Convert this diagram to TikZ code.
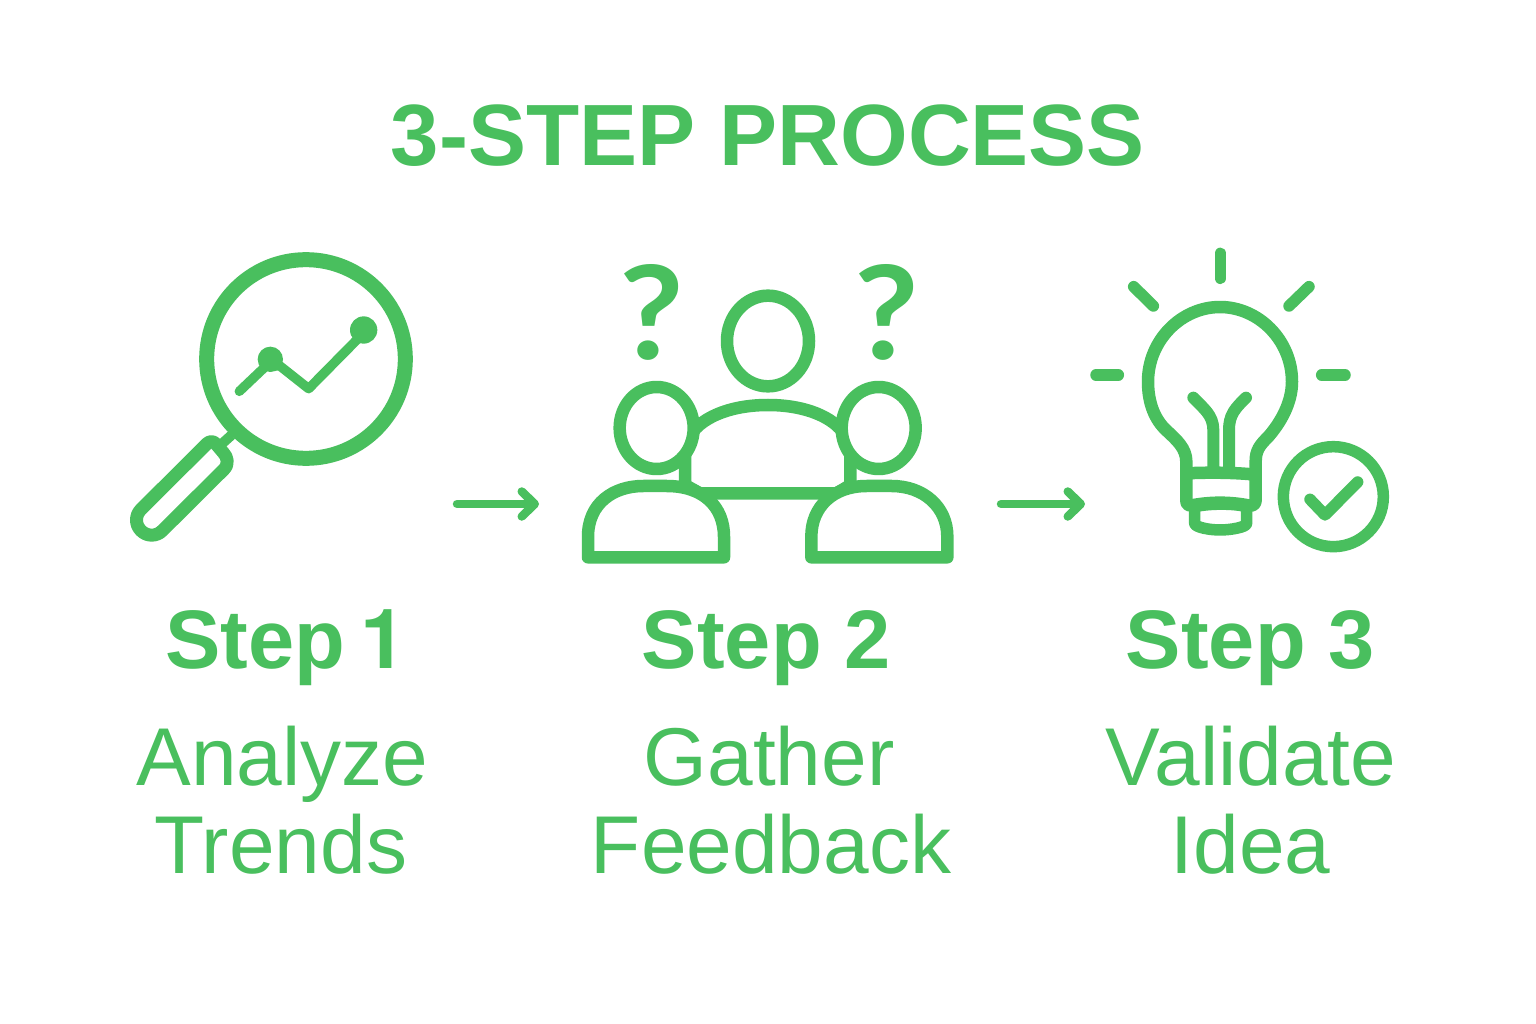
\documentclass[tikz,border=0pt]{standalone}
\usepackage{fontspec}
\usepackage{graphicx}
\setmainfont{Liberation Sans}
\newfontfamily\qfont{Lato}
\newfontfamily\onefont{TeX Gyre Heros}
\usetikzlibrary{arrows.meta}
\definecolor{grn}{HTML}{49BF5E}
\tikzset{
  x=1pt,y=-1pt,
  txt/.style={inner sep=0pt,outer sep=0pt,anchor=base,text=grn},
  titletxt/.style={txt,font=\fontsize{87}{87}\selectfont\bfseries},
  steptxt/.style={txt,font=\fontsize{83}{83}\selectfont\bfseries},
  bodytxt/.style={txt,font=\fontsize{82}{82}\selectfont},
  qmark/.style={txt,font=\fontsize{130}{130}\selectfont\qfont\bfseries},
  ico/.style={draw=grn,line width=12.5pt,line join=round,line cap=round},
  hollow/.style={ico,fill=white},
  flowline/.style={draw=grn,line width=8.5pt,line cap=round,line join=round,
    -{Straight Barb[round,length=13pt,width=25pt,line width=8.5pt]}},
}
\begin{document}
\begin{tikzpicture}
\useasboundingbox (0,0) rectangle (1536,1024);
\fill[white] (0,0) rectangle (1536,1024);
% texts
\node[titletxt] (title) at (768,166) {3-STEP PROCESS};
\node[steptxt] (s1) at (286,668) {Step\kern-8pt{} {\onefont 1}};
\node[steptxt] (s2) at (766.5,668) {Step 2};
\node[steptxt] (s3) at (1250.5,668) {Step 3};
\node[bodytxt] (a1) at (282.5,785) {Analyze};
\node[bodytxt] (a2) at (281,873) {Trends};
\node[bodytxt] (b1) at (769,785) {Gather};
\node[bodytxt] (b2) at (771,873) {Feedback};
\node[bodytxt] (c1) at (1251,785) {Validate};
\node[bodytxt] (c2) at (1250.5,873) {Idea};
% magnifier
\begin{scope}[shift={(120,240)},scale=1/3]
  \draw[ico,line cap=butt,line width=10pt] (305,612) -- (335,585);
  \draw[ico,line width=15pt] (558,357) circle[radius=298];
  \draw[hollow,line width=13pt] (262,610) -- (63,808)
     .. controls (45,826) and (45,854) .. (63,872)
     .. controls (81,890) and (109,890) .. (127,872)
     -- (312,688) .. controls (328,672) and (322,650) .. (310,638)
     -- (288,612) .. controls (280,603) and (270,603) .. (262,610) -- cycle;
  \draw[ico,line width=9.5pt] (358,454) -- (438,378) -- (480,378) -- (566,446) -- (715,295);
  \fill[grn] (451,358) circle[radius=38];
  \fill[grn] (731,270) circle[radius=41];
\end{scope}
% people
\begin{scope}[shift={(570,250)},scale=1/3]
  \draw[hollow,line cap=butt] (345,705) -- (345,600)
     .. controls (352,525) and (450,465) .. (594,465)
     .. controls (738,465) and (834,525) .. (841,600)
     -- (841,705) -- (800,730) -- (390,730) -- cycle;
  \draw[hollow] (594,273) circle[x radius=123,y radius=136];
  \draw[hollow] (260,534) circle[x radius=111,y radius=123];
  \draw[hollow] (926,534) circle[x radius=111,y radius=123];
  \draw[hollow] (54,922) -- (54,860)
     .. controls (54,760) and (130,708) .. (220,708)
     -- (290,708) .. controls (400,708) and (462,770) .. (462,860)
     -- (462,922) -- cycle;
  \draw[hollow] (724,922) -- (724,860)
     .. controls (724,770) and (790,708) .. (890,708)
     -- (965,708) .. controls (1060,708) and (1132,770) .. (1132,860)
     -- (1132,922) -- cycle;
  \node[qmark] (q1) at (246,328) {\scalebox{1.08}[1]{?}};
  \node[qmark] (q2) at (949,328) {\scalebox{1.08}[1]{?}};
\end{scope}
% bulb
\begin{scope}[shift={(990,240)},scale=1/3]
  \draw[ico,line width=11.5pt] (691,40) -- (691,115);
  \draw[ico,line width=11.5pt] (431,140) -- (490,198);
  \draw[ico,line width=11.5pt] (957,140) -- (897,198);
  \draw[ico,line width=11.5pt] (318,405) -- (385,405);
  \draw[ico,line width=11.5pt] (995,405) -- (1065,405);
  \draw[ico] (589,700) -- (589,665)
     .. controls (589,625) and (560,600) .. (530,572)
     .. controls (495,540) and (474,490) .. (474,425)
     .. controls (474,300) and (575,201) .. (690,201)
     .. controls (805,201) and (906,300) .. (906,425)
     .. controls (906,490) and (870,550) .. (835,590)
     .. controls (810,615) and (797,630) .. (797,665) -- (797,700);
  \draw[ico,line width=12pt] (610,473) .. controls (640,505) and (670,525) .. (670,570) -- (670,695);
  \draw[ico,line width=12pt] (768,473) .. controls (735,505) and (717,525) .. (717,570) -- (717,695);
  \draw[ico,line join=round] (589,700) .. controls (650,697) and (730,697) .. (797,704)
     -- (797,780) .. controls (797,792) and (790,797) .. (780,797)
     .. controls (720,785) and (660,785) .. (600,797)
     .. controls (592,797) and (589,790) .. (589,780) -- cycle;
  \draw[ico,line width=11.5pt] (614,800) -- (614,850)
     .. controls (614,862) and (660,870) .. (690,870)
     .. controls (720,870) and (770,862) .. (770,850) -- (770,800)
     .. controls (730,790) and (660,790) .. (614,800) -- cycle;
  \draw[ico,line width=11.5pt] (1030,770) circle[radius=150];
  \draw[ico,line width=11.5pt] (960,778) -- (1005,825) -- (1103,726);
\end{scope}
% arrows
\coordinate (f1s) at (457,504);
\coordinate (f1e) at (539,504);
\coordinate (f2s) at (1001,504);
\coordinate (f2e) at (1085,504);
\draw[flowline] (f1s) -- (f1e);
\draw[flowline] (f2s) -- (f2e);
\end{tikzpicture}
\end{document}
